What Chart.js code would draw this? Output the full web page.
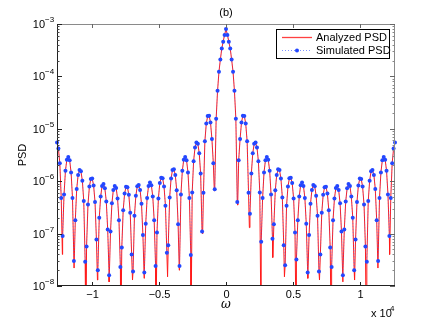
<!DOCTYPE html>
<html>
<head>
<meta charset="utf-8">
<script src="https://cdn.jsdelivr.net/npm/chart.js@4.4.0/dist/chart.umd.min.js"></script>
<style>
  html, body { margin: 0; padding: 0; background: #fff; }
  #wrap { width: 436px; height: 322px; }
</style>
</head>
<body>
<div id="wrap"><canvas id="psdChart" width="436" height="322"></canvas></div>
<script>
// omega axis limits, samples are spread evenly between them
const omegaMin = -12566;
const omegaMax = 12566;

// simulated PSD samples, from omegaMin to omegaMax
const simulatedPsd = [
  5.5e-6, 4.2e-6, 2.2e-6, 4.8e-7, 9.0e-8, 5.6e-7, 1.58e-6, 2.58e-6, 2.9e-6, 2.5e-6,
  1.47e-6, 4.8e-7, 3.0e-8, 1.8e-7, 7.1e-7, 1.32e-6, 1.63e-6, 1.54e-6, 1.02e-6, 4.2e-7,
  2.9e-8, 5.7e-8, 3.6e-7, 7.9e-7, 1.1e-6, 1.12e-6, 8.3e-7, 4.0e-7, 7.7e-8, 2.0e-8,
  2.0e-7, 5.1e-7, 8.1e-7, 8.8e-7, 7.3e-7, 4.1e-7, 1.2e-7, 1.6e-8, 1.1e-7, 3.8e-7,
  6.8e-7, 8.1e-7, 7.4e-7, 4.7e-7, 1.8e-7, 2.3e-8, 5.4e-8, 2.8e-7, 5.8e-7, 7.8e-7,
  7.7e-7, 5.5e-7, 2.5e-7, 4.0e-8, 1.9e-8, 2.2e-7, 5.3e-7, 8.0e-7, 8.5e-7, 6.8e-7,
  3.7e-7, 9.4e-8, 1.8e-8, 1.54e-7, 4.8e-7, 8.1e-7, 9.4e-7, 8.4e-7, 5.1e-7, 1.8e-7,
  2.4e-8, 1.05e-7, 4.7e-7, 9.2e-7, 1.17e-6, 1.14e-6, 7.9e-7, 3.4e-7, 4.3e-8, 6.0e-8,
  4.9e-7, 1.12e-6, 1.63e-6, 1.69e-6, 1.31e-6, 6.7e-7, 1.5e-7, 2.4e-8, 5.6e-7, 1.58e-6,
  2.58e-6, 2.9e-6, 2.5e-6, 1.47e-6, 4.8e-7, 3.9e-8, 6.1e-7, 2.4e-6, 4.4e-6, 5.45e-6,
  5.2e-6, 3.4e-6, 1.4e-6, 1.1e-7, 6.0e-7, 5.8e-6, 1.26e-5, 1.75e-5, 1.78e-5, 1.32e-5,
  6.4e-6, 2.2e-6, 7.0e-7, 1.55e-5, 5.3e-5, 1.23e-4, 2.1e-4, 3.4e-4, 4.6e-4, 6.2e-4,
  8.0e-4,
  6.2e-4, 4.6e-4, 3.4e-4, 2.1e-4, 1.23e-4, 5.3e-5, 1.55e-5, 4.0e-7, 2.5e-6, 6.4e-6,
  1.32e-5, 1.78e-5, 1.75e-5, 1.26e-5, 5.8e-6, 6.0e-7, 2.4e-7, 1.4e-6, 3.4e-6, 5.2e-6,
  5.45e-6, 4.4e-6, 2.4e-6, 6.1e-7, 7.0e-8, 4.8e-7, 1.47e-6, 2.5e-6, 2.9e-6, 2.58e-6,
  1.58e-6, 5.6e-7, 8.0e-8, 1.5e-7, 6.7e-7, 1.31e-6, 1.69e-6, 1.63e-6, 1.12e-6, 4.9e-7,
  6.0e-8, 2.5e-8, 3.4e-7, 7.9e-7, 1.14e-6, 1.17e-6, 9.2e-7, 4.7e-7, 1.05e-7, 3.2e-8,
  1.8e-7, 5.1e-7, 8.4e-7, 9.4e-7, 8.1e-7, 4.8e-7, 1.54e-7, 1.8e-8, 9.4e-8, 3.7e-7,
  6.8e-7, 8.5e-7, 8.0e-7, 5.3e-7, 2.2e-7, 1.9e-8, 4.0e-8, 2.5e-7, 5.5e-7, 7.7e-7,
  7.8e-7, 5.8e-7, 2.8e-7, 5.4e-8, 2.3e-8, 1.8e-7, 4.7e-7, 7.4e-7, 8.1e-7, 6.8e-7,
  3.8e-7, 1.1e-7, 1.6e-8, 1.2e-7, 4.1e-7, 7.3e-7, 8.8e-7, 8.1e-7, 5.1e-7, 2.0e-7,
  2.0e-8, 7.7e-8, 4.0e-7, 8.3e-7, 1.12e-6, 1.1e-6, 7.9e-7, 3.6e-7, 5.7e-8, 2.9e-8,
  4.2e-7, 1.02e-6, 1.54e-6, 1.63e-6, 1.32e-6, 7.1e-7, 1.8e-7, 3.0e-8, 4.8e-7, 1.47e-6,
  2.5e-6, 2.9e-6, 2.58e-6, 1.58e-6, 5.6e-7, 9.0e-8, 4.8e-7, 2.2e-6, 4.2e-6, 5.5e-6
];

// analyzed PSD goes deeper between samples, at the nulls
const dipOmega = [
  -12166, -11297, -10428, -9559, -8690, -7821, -6952, -6083, -5214, -4345, -3476, -2607, -1738, -869,
  869, 1738, 2607, 3476, 4345, 5214, 6083, 6952, 7821, 8690, 9559, 10428, 11297, 12166
];
const dipPsd = [
  4e-8, 2.2e-8, 1e-9, 1.3e-8, 1.2e-8, 1e-9, 1.3e-8, 1.4e-8, 1e-9, 1.5e-8, 2e-8, 1e-9, 1.0e-7, 6.5e-7,
  3.5e-7, 1.3e-7, 1e-9, 3.5e-8, 1.5e-8, 1e-9, 1.4e-8, 1.3e-8, 1e-9, 1.2e-8, 1.3e-8, 1e-9, 2.2e-8, 4e-8
];

const xTicks = [-10000, -5000, 0, 5000, 10000];
const xTickLabels = ['\u22121', '\u22120.5', '0', '0.5', '1'];
const yDecades = [-8, -7, -6, -5, -4, -3];

const FONT = '"Liberation Sans", Arial, sans-serif';

const step = (omegaMax - omegaMin) / (simulatedPsd.length - 1);
const simPoints = simulatedPsd.map((v, i) => ({ x: omegaMin + i * step, y: v }));
const anaPoints = simPoints
  .concat(dipOmega.map((w, i) => ({ x: w, y: dipPsd[i] })))
  .sort((a, b) => a.x - b.x);

// box, ticks, labels and legend drawn the MATLAB way
const matlabAxes = {
  id: 'matlabAxes',
  afterDatasetsDraw(chart) {
    const ctx = chart.ctx;
    const a = chart.chartArea;
    const xs = chart.scales.x;
    const ys = chart.scales.y;
    ctx.save();

    // axes box
    ctx.lineWidth = 1;
    ctx.strokeStyle = '#8a8a8a';
    ctx.beginPath();
    ctx.moveTo(a.left, a.top + 0.5); ctx.lineTo(a.right, a.top + 0.5);
    ctx.moveTo(a.right - 0.5, a.top); ctx.lineTo(a.right - 0.5, a.bottom);
    ctx.stroke();
    ctx.strokeStyle = '#222';
    ctx.beginPath();
    ctx.moveTo(a.left + 0.5, a.top); ctx.lineTo(a.left + 0.5, a.bottom);
    ctx.moveTo(a.left, a.bottom - 0.5); ctx.lineTo(a.right, a.bottom - 0.5);
    ctx.stroke();

    // x ticks
    ctx.fillStyle = '#000';
    ctx.font = '11px ' + FONT;
    ctx.textAlign = 'center';
    ctx.textBaseline = 'middle';
    xTicks.forEach((v, i) => {
      const px = Math.round(xs.getPixelForValue(v)) + 0.5;
      ctx.strokeStyle = '#222';
      ctx.beginPath();
      ctx.moveTo(px, a.bottom); ctx.lineTo(px, a.bottom - 4);
      ctx.stroke();
      ctx.strokeStyle = '#666';
      ctx.beginPath();
      ctx.moveTo(px, a.top); ctx.lineTo(px, a.top + 4);
      ctx.stroke();
      ctx.fillText(xTickLabels[i], px, a.bottom + 9);
    });

    // y ticks, major and minor
    yDecades.forEach(d => {
      const py = Math.round(ys.getPixelForValue(Math.pow(10, d))) + 0.5;
      ctx.strokeStyle = '#222';
      ctx.beginPath();
      ctx.moveTo(a.left, py); ctx.lineTo(a.left + 5, py);
      ctx.stroke();
      ctx.strokeStyle = '#666';
      ctx.beginPath();
      ctx.moveTo(a.right, py); ctx.lineTo(a.right - 5, py);
      ctx.stroke();
      ctx.font = '11px ' + FONT;
      ctx.textAlign = 'right';
      ctx.fillText('10', a.left - 12, py);
      ctx.font = '8px ' + FONT;
      ctx.textAlign = 'left';
      ctx.fillText('\u2212' + String(-d), a.left - 12, py - 5);
      if (d < -3) {
        for (let m = 2; m <= 9; m++) {
          const my = Math.round(ys.getPixelForValue(m * Math.pow(10, d))) + 0.5;
          ctx.strokeStyle = '#444';
          ctx.beginPath();
          ctx.moveTo(a.left, my); ctx.lineTo(a.left + 2.5, my);
          ctx.stroke();
          ctx.strokeStyle = '#888';
          ctx.beginPath();
          ctx.moveTo(a.right, my); ctx.lineTo(a.right - 2.5, my);
          ctx.stroke();
        }
      }
    });

    // title and axis labels
    ctx.font = '11px ' + FONT;
    ctx.textAlign = 'center';
    ctx.fillText('(b)', (a.left + a.right) / 2, 13);
    ctx.font = 'italic 12px "DejaVu Serif", serif';
    ctx.fillText('\u03c9', xs.getPixelForValue(0), a.bottom + 19);
    ctx.font = '11px ' + FONT;
    ctx.textAlign = 'left';
    ctx.fillText('x 10', 371, 314);
    ctx.font = '8px ' + FONT;
    ctx.fillText('4', 390, 309);
    ctx.save();
    ctx.translate(23, (a.top + a.bottom) / 2);
    ctx.rotate(-Math.PI / 2);
    ctx.font = '11px ' + FONT;
    ctx.textAlign = 'center';
    ctx.fillText('PSD', 0, 0);
    ctx.restore();

    // legend
    const lx = 276, ly = 29, lw = 113, lh = 29;
    ctx.fillStyle = '#fff';
    ctx.fillRect(lx, ly, lw, lh);
    ctx.strokeStyle = '#000';
    ctx.lineWidth = 1;
    ctx.strokeRect(lx + 0.5, ly + 0.5, lw, lh);
    ctx.strokeStyle = '#ff4040';
    ctx.lineWidth = 1.3;
    ctx.beginPath();
    ctx.moveTo(282, 37.5); ctx.lineTo(312, 37.5);
    ctx.stroke();
    ctx.lineWidth = 1;
    ctx.strokeStyle = 'rgba(70,100,255,0.7)';
    ctx.setLineDash([1, 2]);
    ctx.beginPath();
    ctx.moveTo(282, 50.5); ctx.lineTo(312, 50.5);
    ctx.stroke();
    ctx.setLineDash([]);
    ctx.fillStyle = '#2347ff';
    ctx.beginPath();
    ctx.arc(297, 50.5, 2, 0, Math.PI * 2);
    ctx.fill();
    ctx.fillStyle = '#000';
    ctx.font = '11px ' + FONT;
    ctx.textAlign = 'left';
    ctx.fillText('Analyzed PSD', 316, 37.5);
    ctx.fillText('Simulated PSD', 316, 50.5);

    ctx.restore();
  }
};

const ctx = document.getElementById('psdChart').getContext('2d');
new Chart(ctx, {
  type: 'line',
  data: {
    datasets: [
      {
        label: 'Simulated PSD',
        data: simPoints,
        borderColor: 'rgba(70,100,255,0.55)',
        borderWidth: 0.8,
        borderDash: [1, 2],
        pointRadius: 2,
        pointBackgroundColor: '#2347ff',
        pointBorderWidth: 0,
        tension: 0,
        clip: { left: 3, right: 3, top: 3, bottom: 0 }
      },
      {
        label: 'Analyzed PSD',
        data: anaPoints,
        borderColor: '#ff1a1a',
        borderWidth: 1,
        pointRadius: 0,
        tension: 0,
        clip: 0
      }
    ]
  },
  options: {
    responsive: false,
    animation: false,
    layout: { padding: { left: 57, top: 24, right: 41, bottom: 36 } },
    plugins: { legend: { display: false }, tooltip: { enabled: false } },
    scales: {
      x: { type: 'linear', min: omegaMin, max: omegaMax, display: false },
      y: { type: 'logarithmic', min: 1e-8, max: 1e-3, display: false }
    }
  },
  plugins: [matlabAxes]
});
</script>
</body>
</html>
